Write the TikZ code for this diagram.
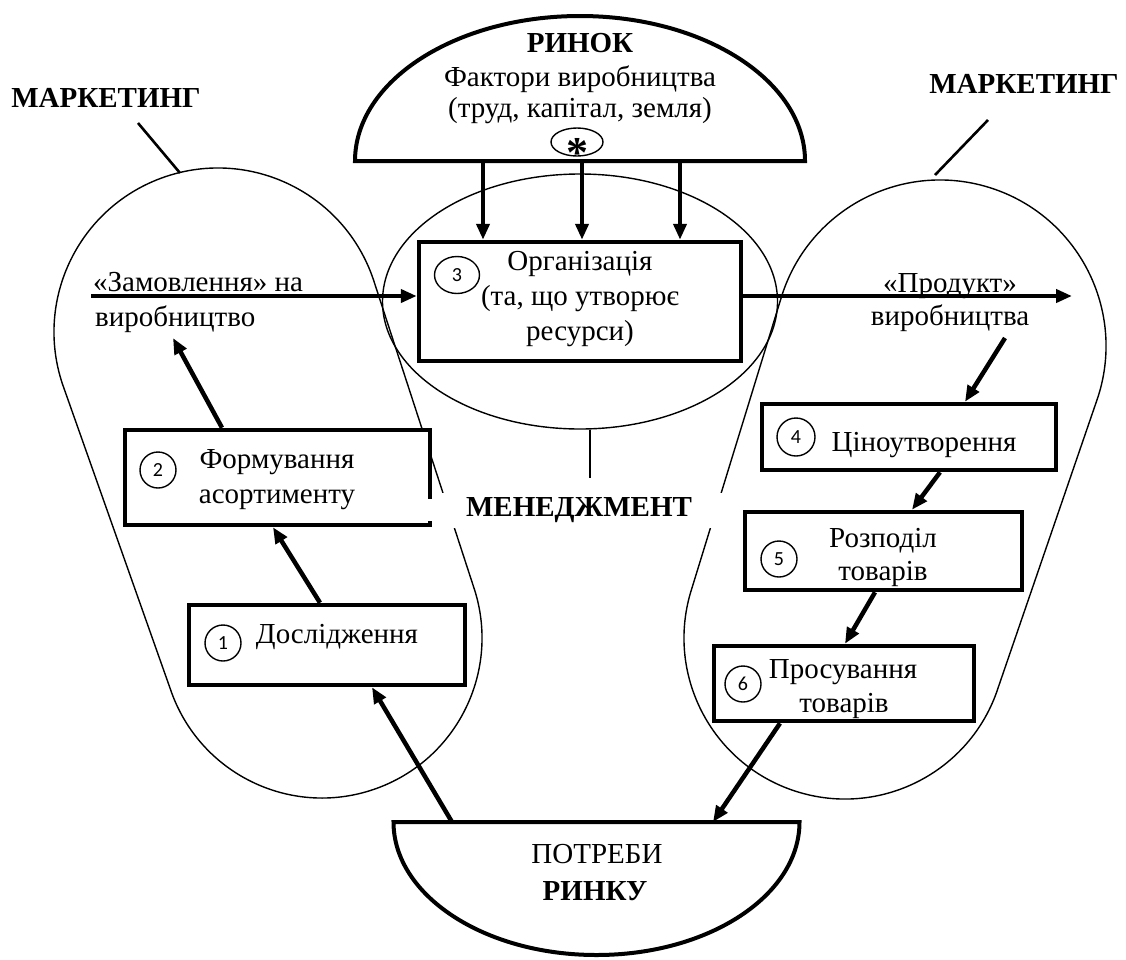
\documentclass[tikz,border=0pt]{standalone}
\usepackage{fontspec}
\setmainfont{Liberation Serif}
\newfontfamily\numfont{Carlito}
\usetikzlibrary{arrows.meta,shapes.geometric,calc}
\newcommand\txtsize{\fontsize{29}{35}\selectfont}
\begin{document}
\begin{tikzpicture}[x=1pt,y=-1pt,
  thinline/.style={line width=1.4pt},
  stepbox/.style={draw, line width=4.5pt, fill=white, inner sep=0pt},
  numcirc/.style={draw, line width=1.4pt, circle, minimum size=36pt, inner sep=0pt,
                  font=\numfont\fontsize{20}{20}\selectfont},
  lbl/.style={inner sep=0pt, anchor=base, font=\txtsize},
  blbl/.style={inner sep=0pt, anchor=base, font=\txtsize\bfseries},
  flow/.style={line width=4.5pt, -{Triangle[length=16pt,width=13pt]}},
  pointer/.style={line width=2.6pt},
]
\useasboundingbox (0,0) rectangle (1126,959);

% marketing areas (two rounded lobes)
\draw[thinline] ($(218,332)+(161.23:164)$)
  arc[start angle=161.23, end angle=341.23, radius=164]
  -- ($(322,638)+(341.23:160)$)
  arc[start angle=341.23, end angle=521.23, radius=160] -- cycle;
\draw[thinline] ($(940,346)+(198.02:166)$)
  arc[start angle=198.02, end angle=378.02, radius=166]
  -- ($(845,638)+(378.02:161)$)
  arc[start angle=378.02, end angle=558.02, radius=161] -- cycle;

% management area
\node[draw, thinline, ellipse, minimum width=395pt, minimum height=255pt, inner sep=0pt]
  (mgmt) at (580,301.5) {};

% market of production factors (dome)
\draw[line width=4pt] (355,161) arc[start angle=180, end angle=360, x radius=225, y radius=145] -- cycle;
\coordinate (rinok) at (580,161);
\node[blbl] (rinokT) at (580,52) {РИНОК};
\node[lbl] (factT) at (580,86) {Фактори виробництва};
\node[lbl] (factT2) at (580,117) {(труд, капітал, земля)};
\node[draw, thinline, ellipse, minimum width=52pt, minimum height=28pt, inner sep=0pt]
  (star) at (577,142) {};
\node[inner sep=0pt, anchor=base, font=\fontsize{44}{44}\selectfont\bfseries] (asterisk) at (577,167) {*};

% market needs (bowl)
\draw[line width=4pt] (393.5,822) arc[start angle=180, end angle=0, x radius=203, y radius=133] -- cycle;
\coordinate (needs) at (596.5,822);
\node[lbl] (needT) at (597,863) {ПОТРЕБИ};
\node[blbl] (needT2) at (595,900) {РИНКУ};

% marketing labels
\node[blbl] (mktL) at (106,107) {МАРКЕТИНГ};
\node[blbl] (mktR) at (1024,93) {МАРКЕТИНГ};
\coordinate (mktLtip) at (180,173);
\coordinate (mktRtip) at (935,175);
\draw[pointer] ([shift={(32,16)}]mktL.base) -- (mktLtip);
\draw[pointer] ([shift={(-36,27)}]mktR.base) -- (mktRtip);

% step boxes
\node[stepbox, minimum width=322pt, minimum height=119pt] (b3) at (580,301.5) {};
\node[stepbox, minimum width=305pt, minimum height=95pt] (b2) at (277.5,477.5) {};
\node[stepbox, minimum width=276pt, minimum height=80pt] (b1) at (327,645) {};
\node[stepbox, minimum width=294pt, minimum height=66pt] (b4) at (909,437) {};
\node[stepbox, minimum width=277pt, minimum height=78pt] (b5) at (883.5,551) {};
\node[stepbox, minimum width=260pt, minimum height=75pt] (b6) at (844,683.5) {};

% step numbers
\node[numcirc] (n1) at (223,643) {1};
\node[numcirc] (n2) at (158,470) {2};
\node[numcirc, ellipse, minimum width=45pt, minimum height=37pt] (n3) at (457,275) {3};
\node[numcirc, minimum size=38pt] (n4) at (796,437) {4};
\node[numcirc] (n5) at (779,559) {5};
\node[numcirc] (n6) at (743,684) {6};

% step texts
\node[lbl] (t3a) at (580,270) {Організація};
\node[lbl] (t3b) at (580,305) {(та, що утворює};
\node[lbl] (t3c) at (580,340) {ресурси)};
\node[lbl] (t2a) at (277,468) {Формування};
\node[lbl] (t2b) at (277,503) {асортименту};
\node[lbl] (t1) at (337,643) {Дослідження};
\node[lbl] (t4) at (924,451) {Ціноутворення};
\node[lbl] (t5a) at (883,547) {Розподіл};
\node[lbl] (t5b) at (883,580) {товарів};
\node[lbl] (t6a) at (843,678) {Просування};
\node[lbl] (t6b) at (844,712) {товарів};

% order and product labels
\node[lbl, anchor=base west] (ordT) at (93,291) {«Замовлення» на};
\node[lbl, anchor=base west] (vyrL) at (95,326) {виробництво};
\node[lbl] (prodT) at (950,292) {«Продукт»};
\node[lbl] (vyrR) at (950,325) {виробництва};

% management label, masking the lobe outlines behind it
\fill[white] (427,499) rectangle (434,521);
\node[fill=white, inner sep=0pt, minimum width=292pt, minimum height=35pt,
      font=\txtsize\bfseries] (mgmtT) at (579,510.5) {МЕНЕДЖМЕНТ};
\draw[pointer, line width=2pt] ([xshift=10pt]mgmt.south) -- ++(0,48);

% flows
\coordinate (ordStart) at (91,296);
\coordinate (prodEnd) at (1072,296);
\draw[flow] (ordStart) -- (b3.west |- ordStart);
\draw[flow] (b3.east |- prodEnd) -- (prodEnd);
\foreach \dx in {-97,2,100}
  \draw[flow] ([xshift=\dx pt]rinok) -- ([xshift=\dx pt]b3.north);
\draw[flow] ([xshift=-144.5pt]needs) -- ([xshift=45pt]b1.south);
\draw[flow] ([xshift=-7pt]b1.north) -- ([xshift=-4.5pt]b2.south);
\draw[flow] ([xshift=-55.5pt]b2.north) -- ([shift={(78,12)}]vyrL.base west);
\draw[flow] ([shift={(55,13)}]vyrR.base) -- ([xshift=56pt]b4.north);
\draw[flow] ([xshift=31pt]b4.south) -- ([xshift=28.5pt]b5.north);
\draw[flow] ([xshift=-8.5pt]b5.south) -- ([xshift=1pt]b6.north);
\draw[flow] ([xshift=-64pt]b6.south) -- ([xshift=116.5pt]needs);
\end{tikzpicture}
\end{document}
